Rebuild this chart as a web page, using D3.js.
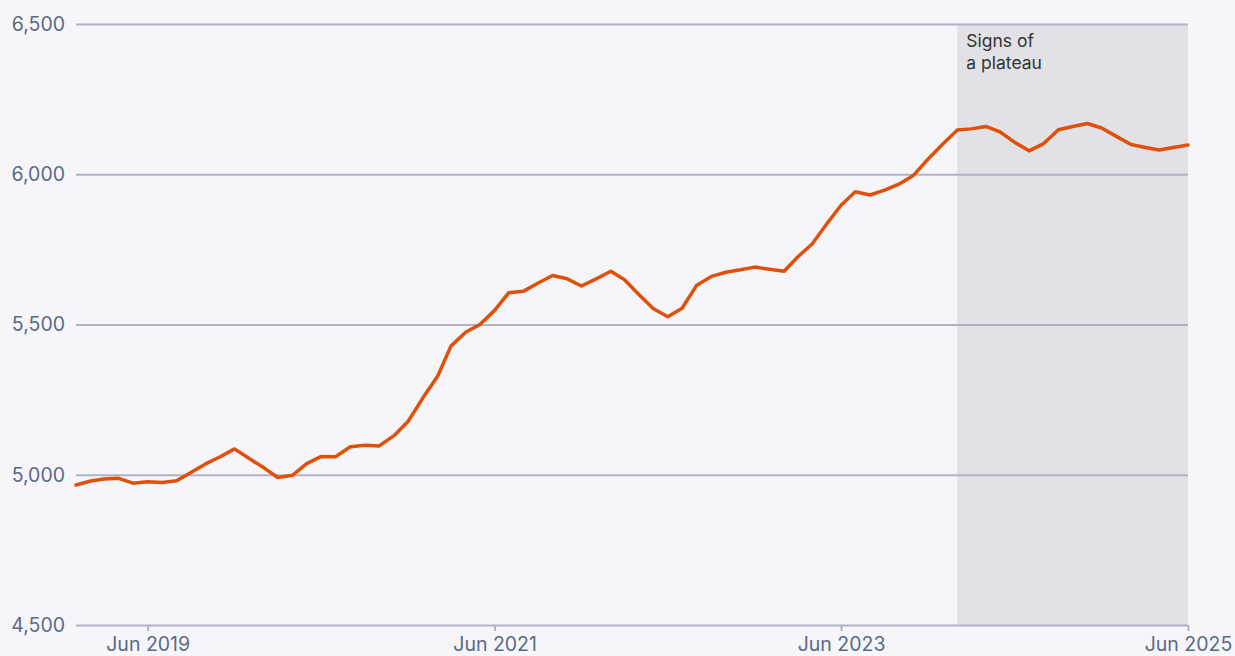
<!DOCTYPE html>
<html>
<head>
<meta charset="utf-8">
<script src="https://cdn.jsdelivr.net/npm/d3@7"></script>
<style>
  html, body { margin: 0; padding: 0; background: #f5f5fa; }
  svg { display: block; }
</style>
</head>
<body>
<svg id="chart" width="1235" height="656"></svg>
<script>
const startMonth = "2019-01";
const values = [
  4966, 4979, 4986, 4988, 4972, 4977, 4974, 4980, 5008, 5036, 5060, 5086,
  5054, 5023, 4991, 4998, 5037, 5061, 5060, 5093, 5098, 5096, 5130, 5178,
  5256, 5328, 5428, 5474, 5500, 5547, 5606, 5611, 5638, 5663, 5652, 5628,
  5652, 5677, 5650, 5600, 5553, 5526, 5554, 5631, 5660, 5674, 5682, 5691,
  5684, 5677, 5724, 5768, 5833, 5897, 5942, 5931, 5947, 5967, 5997, 6050,
  6100, 6147, 6151, 6159, 6141, 6106, 6078, 6102, 6148, 6159, 6169, 6154,
  6126, 6099, 6090, 6081, 6089, 6097
];
const yTicks = [4500, 5000, 5500, 6000, 6500];
const xTickLabels = ["2019-06", "2021-06", "2023-06", "2025-06"];
const shadeRange = ["2024-02", "2025-06"];
const annotationLines = ["Signs of", "a plateau"];

const parse = d3.timeParse("%Y-%m");
const fmtTick = d3.timeFormat("%b %Y");
const start = parse(startMonth);
const data = values.map((v, i) => ({ date: d3.timeMonth.offset(start, i), value: v }));

const svg = d3.select("#chart");
const margin = { left: 76, right: 47, top: 24, bottom: 31 };
const W = 1235, H = 656;

const x = d3.scaleTime()
  .domain([data[0].date, data[data.length - 1].date])
  .range([margin.left, W - margin.right]);
const y = d3.scaleLinear()
  .domain([4500, 6500])
  .range([H - margin.bottom, margin.top]);

const font = "Inter, 'Noto Sans', sans-serif";

// shaded region
svg.append("rect")
  .attr("x", x(parse(shadeRange[0])))
  .attr("y", y(6500))
  .attr("width", x(parse(shadeRange[1])) - x(parse(shadeRange[0])))
  .attr("height", y(4500) - y(6500))
  .attr("fill", "#e1e1e6");

// gridlines + y labels
const yAxis = d3.axisLeft(y)
  .tickValues(yTicks)
  .tickSize(-(W - margin.left - margin.right))
  .tickPadding(11)
  .tickFormat(d3.format(","));
const gy = svg.append("g")
  .attr("transform", `translate(${margin.left},0)`)
  .call(yAxis);
gy.select(".domain").remove();
gy.selectAll(".tick line").attr("stroke", "#afb3c5").attr("stroke-width", 2);
gy.selectAll(".tick text")
  .attr("fill", "#5b6a84")
  .style("font-family", font)
  .style("font-size", "19.5px");

// x axis
const xAxis = d3.axisBottom(x)
  .tickValues(xTickLabels.map(parse))
  .tickSize(6)
  .tickPadding(6)
  .tickFormat(fmtTick);
const gx = svg.append("g")
  .attr("transform", `translate(0,${y(4500)})`)
  .call(xAxis);
gx.select(".domain").remove();
gx.selectAll(".tick line").attr("stroke", "#afb3c5").attr("stroke-width", 2);
gx.selectAll(".tick text")
  .attr("fill", "#5b6a84")
  .style("font-family", font)
  .style("font-size", "19.5px");

// line
const line = d3.line()
  .x(d => x(d.date))
  .y(d => y(d.value));
svg.append("path")
  .datum(data)
  .attr("fill", "none")
  .attr("stroke", "#e0500a")
  .attr("stroke-width", 3.5)
  .attr("stroke-linejoin", "round")
  .attr("stroke-linecap", "round")
  .attr("d", line);

// annotation
const ann = svg.append("text")
  .attr("x", x(parse(shadeRange[0])) + 9)
  .attr("y", 47)
  .attr("fill", "#333333")
  .style("font-family", font)
  .style("font-size", "17.5px");
ann.selectAll("tspan")
  .data(annotationLines)
  .join("tspan")
  .attr("x", x(parse(shadeRange[0])) + 9)
  .attr("dy", (d, i) => i === 0 ? 0 : 22)
  .text(d => d);
</script>
</body>
</html>
